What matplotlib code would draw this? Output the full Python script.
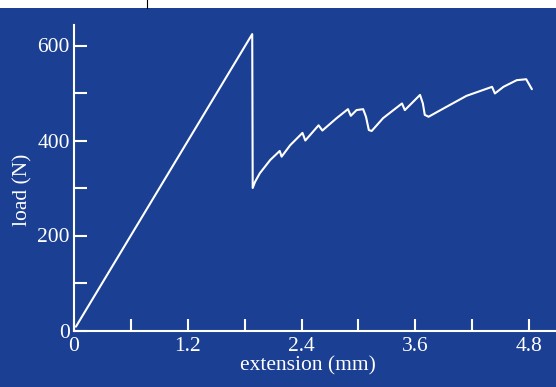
import matplotlib.pyplot as plt
from matplotlib.patches import Rectangle
from matplotlib.lines import Line2D

# values
extension = [0.02, 1.88, 1.885, 1.91, 1.96, 2.07, 2.17, 2.19, 2.28, 2.41, 2.44, 2.58, 2.62,
             2.77, 2.89, 2.92, 2.98, 3.05, 3.08, 3.11, 3.14, 3.26, 3.46, 3.49, 3.65, 3.68,
             3.70, 3.74, 3.93, 4.14, 4.41, 4.44, 4.53, 4.67, 4.77, 4.83]
load = [8, 624, 300, 313, 331, 359, 378, 366, 390, 416, 400, 432, 421,
        447, 466, 452, 464, 466, 450, 422, 420, 447, 478, 464, 496, 478,
        454, 450, 471, 494, 513, 499, 513, 527, 529, 508]

x_ticks = [0, 0.6, 1.2, 1.8, 2.4, 3.0, 3.6, 4.2, 4.8]
x_labels = ['0', '', '1.2', '', '2.4', '', '3.6', '', '4.8']
y_ticks = [0, 100, 200, 300, 400, 500, 600]
y_labels = ['0', '', '200', '', '400', '', '600']

bg = '#1b3f92'
plt.rcParams['font.family'] = ['Liberation Serif', 'DejaVu Serif']

fig = plt.figure(figsize=(5.56, 3.87), dpi=100)
fig.patch.set_facecolor(bg)
ax = fig.add_axes([74 / 556, 56.5 / 387, 482 / 556, 305.5 / 387])
ax.set_facecolor(bg)

ax.plot(extension, load, color='white', lw=1.5, solid_joinstyle='round', solid_capstyle='round')

ax.set_xlim(0, 482 / 94.8)
ax.set_ylim(0, 305.5 / 0.475)

for side in ['top', 'right']:
    ax.spines[side].set_visible(False)
for side in ['left', 'bottom']:
    ax.spines[side].set_color('white')
    ax.spines[side].set_linewidth(1.5)

ax.set_xticks(x_ticks)
ax.set_xticklabels(x_labels)
ax.set_yticks(y_ticks)
ax.set_yticklabels(y_labels)
ax.tick_params(direction='in', length=9, width=1.5, color='white', labelcolor='white',
               labelsize=15.5)
ax.tick_params(axis='x', pad=4.5)
ax.tick_params(axis='y', pad=3)

ax.set_xlabel('extension (mm)', color='white', fontsize=15.5)
ax.xaxis.set_label_coords(0.485, -0.085)
ax.set_ylabel('load (N)', color='white', fontsize=15.5)
ax.yaxis.set_label_coords(-0.087, 0.46)

# white strip along the top edge of the original slide
fig.patches.append(Rectangle((0, 379 / 387), 1, 8 / 387, transform=fig.transFigure,
                             facecolor='white', edgecolor='none'))
fig.lines.append(Line2D([147 / 556, 147 / 556], [379 / 387, 1], transform=fig.transFigure,
                        color='black', lw=0.8))

fig.savefig('out.png', dpi=100, facecolor=bg)
